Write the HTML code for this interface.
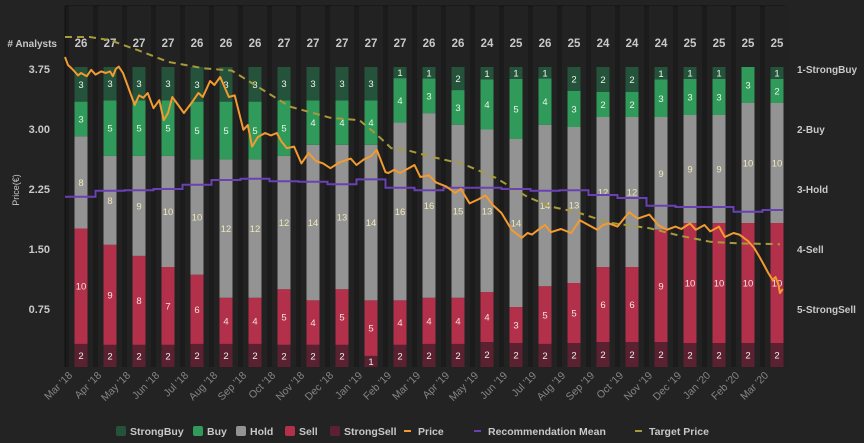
<!DOCTYPE html>
<html><head><meta charset="utf-8"><style>
body{margin:0;background:#232323;}
svg{display:block;font-family:"Liberation Sans",sans-serif;}
</style></head><body>
<svg id="c" width="864" height="443" viewBox="0 0 864 443"></svg>
<script>
const months=["Mar '18","Apr '18","May '18","Jun '18","Jul '18","Aug '18","Sep '18","Oct '18","Nov '18","Dec '18","Jan '19","Feb '19","Mar '19","Apr '19","May '19","Jun '19","Jul '19","Aug '19","Sep '19","Oct '19","Nov '19","Dec '19","Jan '20","Feb '20","Mar '20"];
const strongBuy=[3,3,3,3,3,3,3,3,3,3,3,1,1,2,1,1,1,2,2,2,1,1,1,0,1];
const buy=[3,5,5,5,5,5,5,5,4,4,4,4,3,3,4,5,4,3,2,2,3,3,3,3,2];
const hold=[8,8,9,10,10,12,12,12,14,13,14,16,16,15,13,14,14,13,12,12,9,9,9,10,10];
const sell=[10,9,8,7,6,4,4,5,4,5,5,4,4,4,4,3,5,5,6,6,9,10,10,10,10];
const strongSell=[2,2,2,2,2,2,2,2,2,2,1,2,2,2,2,2,2,2,2,2,2,2,2,2,2];
const priceTicks=[3.75,3.00,2.25,1.50,0.75];
const recTicks=["1-StrongBuy","2-Buy","3-Hold","4-Sell","5-StrongSell"];
const recMean=[3.13,3.03,3.02,3.0,2.93,2.85,2.83,2.87,2.88,2.92,2.84,2.98,3.02,2.98,2.98,3.0,3.03,3.02,3.1,3.15,3.28,3.3,3.3,3.38,3.35];
const targetT=[-0.55,0.3,1.0,2.0,3.0,4.2,5.2,7.2,8.6,9.6,10.2,10.7,11.3,12.0,13.2,14.3,15.4,16.2,17.1,18.2,19.6,20.6,21.7,22.7,24.1];
const targetV=[4.15,4.15,4.11,3.98,3.84,3.76,3.73,3.28,3.14,3.11,2.93,2.76,2.73,2.66,2.56,2.39,2.15,2.03,1.96,1.83,1.76,1.67,1.59,1.57,1.56];
const priceT=[-0.55,-0.45,-0.3,-0.1,0,0.2,0.35,0.5,0.7,0.85,1.0,1.1,1.2,1.3,1.45,1.6,1.85,2.0,2.15,2.3,2.5,2.7,2.85,3.0,3.15,3.35,3.55,3.8,4.05,4.2,4.45,4.6,4.8,5.1,5.3,5.6,5.75,5.9,6.1,6.35,6.55,6.75,6.9,7.1,7.35,7.6,7.85,8.1,8.35,8.6,8.9,9.3,9.5,9.75,10.0,10.2,10.5,10.6,10.8,11.0,11.3,11.5,11.7,12.0,12.25,12.6,12.9,13.1,13.4,13.7,13.95,14.2,14.5,14.85,15.2,15.4,15.55,15.8,16.0,16.2,16.55,16.9,17.2,17.5,17.8,18.0,18.2,18.5,18.9,19.2,19.6,19.9,20.2,20.5,20.7,21.0,21.2,21.5,21.7,22.0,22.2,22.5,22.7,23.0,23.2,23.4,23.55,23.7,23.85,23.95,24.05,24.1,24.2];
const priceV=[3.9,3.8,3.75,3.67,3.7,3.66,3.74,3.68,3.72,3.7,3.72,3.66,3.75,3.78,3.7,3.55,3.3,3.42,3.39,3.45,3.26,3.36,3.11,3.2,3.4,3.3,3.2,3.32,3.45,3.4,3.6,3.55,3.65,3.4,3.42,2.99,3.05,2.78,2.9,2.95,2.92,2.95,2.85,2.76,2.78,2.57,2.7,2.6,2.57,2.51,2.58,2.63,2.55,2.62,2.66,2.74,2.46,2.45,2.49,2.45,2.51,2.55,2.4,2.42,2.33,2.28,2.2,2.25,2.07,2.12,2.17,2.05,1.95,1.74,1.64,1.7,1.68,1.75,1.8,1.71,1.75,1.7,1.86,1.8,1.74,1.8,1.82,1.78,1.96,1.88,1.93,1.8,1.74,1.78,1.75,1.82,1.74,1.8,1.72,1.78,1.65,1.7,1.68,1.6,1.52,1.4,1.3,1.2,1.11,1.15,1.05,0.95,1.0,0.95];

const svg=document.getElementById('c');
const NS='http://www.w3.org/2000/svg';
function mk(tag,attrs,parent){const e=document.createElementNS(NS,tag);for(const k in attrs)e.setAttribute(k,attrs[k]);(parent||svg).appendChild(e);return e;}
const X0=81,DX=29,BW=13,TOP=67,BOT=367;
const xOf=i=>X0+i*DX;
const yPrice=p=>69+(3.75-p)*80;
const yRec=r=>69+(r-1)*60;

let e=mk('rect',{x:65,y:6,width:720,height:361,fill:'#1b1b1b'});


mk('line',{x1:65,y1:6,x2:65,y2:367,stroke:'#111','stroke-width':1});
mk('line',{x1:65,y1:6,x2:785,y2:6,stroke:'#111','stroke-width':1});
months.forEach((m,i)=>{
  const b=mk('rect',{x:xOf(i)-12,y:6,width:24,height:361,fill:'#222'});
  
  
});
const segs=[[strongSell,'#5b2130','#eee'],[sell,'#b3304a','#f3e3e3'],[hold,'#939393','#efe8b8'],[buy,'#2f9a5a','#e8f5e8'],[strongBuy,'#24523a','#e8f5e8']];
const segNames=['strongsell','sell','hold','buy','strongbuy'];
months.forEach((m,i)=>{
  const tot=strongBuy[i]+buy[i]+hold[i]+sell[i]+strongSell[i];
  let y=BOT;
  segs.forEach((s,k)=>{
    const v=s[0][i]; if(!v)return;
    const h=v/tot*(BOT-TOP);
    const r=mk('rect',{x:xOf(i)-BW/2,y:y-h,width:BW,height:h,fill:s[1]});
    
    
    const t=mk('text',{x:xOf(i),y:y-h/2+3.5,'font-size':9.5,fill:s[2],'text-anchor':'middle'});
    t.textContent=v;
    
    
    y-=h;
  });
  const n=mk('text',{x:xOf(i),y:47,'font-size':11.5,'font-weight':'bold',fill:'#c8c8c8','text-anchor':'middle'});
  n.textContent=tot;
  
  
  const lx=xOf(i)-8,ly=376;
  const l=mk('text',{x:lx,y:ly,'font-size':10.5,fill:'#858585','text-anchor':'end',transform:`rotate(-45 ${lx} ${ly})`});
  l.textContent=m;
  
  
});
let a=mk('text',{x:57,y:47,'font-size':10,'font-weight':'bold',fill:'#c8c8c8','text-anchor':'end'});a.textContent='# Analysts';


priceTicks.forEach(p=>{
  const t=mk('text',{x:50,y:yPrice(p)+4,'font-size':11,'font-weight':'bold',fill:'#c8c8c8','text-anchor':'end'});
  t.textContent=p.toFixed(2);
  
  
});
recTicks.forEach((r,i)=>{
  const t=mk('text',{x:797,y:yRec(i+1)+4,'font-size':10,'font-weight':'bold',fill:'#c8c8c8'});
  t.textContent=r;
  
  
});
a=mk('text',{x:19,y:190,'font-size':9,fill:'#c8c8c8','text-anchor':'middle',transform:'rotate(-90 19 190)'});a.textContent='Price(€)';


let d=targetT.map((t,i)=>(i?'L':'M')+xOf(t).toFixed(1)+','+yPrice(targetV[i]).toFixed(1)).join('');
e=mk('path',{d,fill:'none',stroke:'#a89a3a','stroke-width':2,'stroke-dasharray':'7,5'});


d='M65,'+yRec(recMean[0]);
recMean.forEach((r,i)=>{const xs=i?xOf(i)-14.5:65;d+='L'+xs+','+yRec(r).toFixed(1)+'L'+(i<recMean.length-1?xOf(i)+14.5:783)+','+yRec(r).toFixed(1);});
e=mk('path',{d,fill:'none',stroke:'#6a40b5','stroke-width':2});


d=priceT.map((t,i)=>(i?'L':'M')+xOf(t).toFixed(1)+','+yPrice(priceV[i]).toFixed(1)).join('');
e=mk('path',{d,fill:'none',stroke:'#f39a30','stroke-width':2,'stroke-linejoin':'round'});


const leg=[['StrongBuy','#24523a','sq',116],['Buy','#2f9a5a','sq',193],['Hold','#939393','sq',236],['Sell','#b3304a','sq',285],['StrongSell','#5b2130','sq',330],['Price','#f39a30','ln',404],['Recommendation Mean','#6a40b5','ln',474],['Target Price','#a89a3a','ln',635]];
leg.forEach(l=>{
  const g=mk('g',{});
  
  
  if(l[2]==='sq')mk('rect',{x:l[3],y:426,width:10,height:10,rx:2,fill:l[1]},g);
  else mk('line',{x1:l[3],y1:431,x2:l[3]+7,y2:431,stroke:l[1],'stroke-width':2},g);
  const t=mk('text',{x:l[3]+(l[2]==='sq'?14:14),y:435,'font-size':10.5,'font-weight':'bold',fill:'#c8c8c8'},g);
  t.textContent=l[0];
});
</script>
</body></html>
